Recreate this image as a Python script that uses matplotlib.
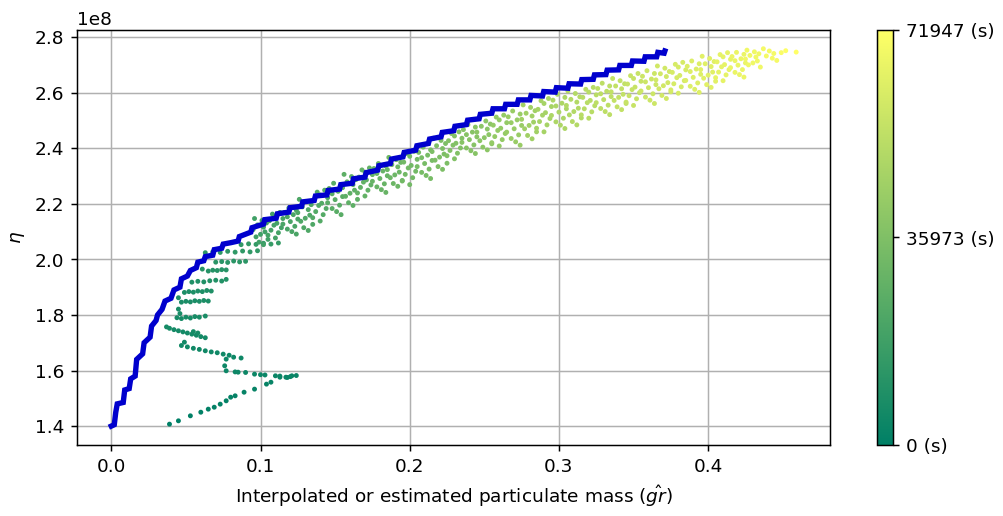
import numpy as np
import matplotlib.pyplot as plt

T_MAX = 71947      # duración total (s)
SCALE = 1e8        # eta en unidades de 1e8

# --- serie azul: masa real vs eta (escalones) ---
blue_x = [0.000, 0.002, 0.003, 0.004, 0.008, 0.009, 0.012, 0.013, 0.016, 0.017,
          0.021, 0.022, 0.026, 0.027, 0.030, 0.031, 0.034, 0.036, 0.040, 0.042,
          0.046, 0.047, 0.051, 0.053, 0.057, 0.058, 0.062, 0.063, 0.068, 0.069,
          0.074, 0.075, 0.080,
          0.0850, 0.0858, 0.0935, 0.0943, 0.1020, 0.1028, 0.1105, 0.1113,
          0.1190, 0.1198, 0.1275, 0.1283, 0.1360, 0.1368, 0.1445, 0.1453,
          0.1530, 0.1538, 0.1615, 0.1623, 0.1700, 0.1708, 0.1785, 0.1793,
          0.1870, 0.1878, 0.1955, 0.1963, 0.2040, 0.2048, 0.2125, 0.2133,
          0.2210, 0.2218, 0.2295, 0.2303, 0.2380, 0.2388, 0.2465, 0.2473,
          0.2550, 0.2558, 0.2635, 0.2643, 0.2720, 0.2728, 0.2805, 0.2813,
          0.2890, 0.2898, 0.2975, 0.2983, 0.3060, 0.3068, 0.3145, 0.3153,
          0.3230, 0.3238, 0.3315, 0.3323, 0.3400, 0.3408, 0.3485, 0.3493,
          0.3570, 0.3578, 0.3655, 0.3663, 0.3705, 0.3710]
blue_y = [1.400, 1.405, 1.450, 1.480, 1.485, 1.530, 1.535, 1.570, 1.580, 1.640,
          1.660, 1.700, 1.720, 1.760, 1.780, 1.800, 1.820, 1.850, 1.860, 1.890,
          1.900, 1.930, 1.940, 1.960, 1.970, 1.990, 1.995, 2.010, 2.015, 2.035,
          2.040, 2.055, 2.060,
          2.066, 2.082, 2.098, 2.114, 2.127, 2.143, 2.148, 2.164,
          2.170, 2.186, 2.191, 2.207, 2.212, 2.228, 2.232, 2.248,
          2.253, 2.269, 2.274, 2.290, 2.296, 2.312, 2.321, 2.337,
          2.345, 2.361, 2.369, 2.385, 2.393, 2.409, 2.417, 2.433,
          2.441, 2.457, 2.463, 2.479, 2.485, 2.501, 2.506, 2.522,
          2.526, 2.542, 2.542, 2.558, 2.558, 2.574, 2.574, 2.590,
          2.588, 2.604, 2.602, 2.618, 2.616, 2.632, 2.631, 2.647,
          2.648, 2.664, 2.665, 2.681, 2.682, 2.698, 2.698, 2.714,
          2.713, 2.729, 2.729, 2.745, 2.742, 2.750]

# --- nube verde: masa estimada vs eta, color = tiempo (s) ---
green_x = [
    # primer tramo (zigzag inicial)
    0.039, 0.045, 0.053, 0.060, 0.065, 0.069, 0.073, 0.077, 0.080, 0.083,
    0.089, 0.096, 0.104, 0.107, 0.113, 0.118, 0.121, 0.124,
    0.120, 0.117, 0.113, 0.110, 0.103, 0.100, 0.096, 0.090, 0.085, 0.083,
    0.077, 0.076, 0.077,
    0.087, 0.082, 0.079, 0.075, 0.071, 0.067, 0.063, 0.059, 0.055, 0.051,
    0.047, 0.049,
    0.063, 0.060, 0.057, 0.054, 0.051, 0.048, 0.045, 0.042, 0.039, 0.037,
    0.055, 0.058,
    0.044, 0.047, 0.050, 0.053, 0.056, 0.059, 0.046, 0.045, 0.063,
    0.047, 0.050, 0.053, 0.056, 0.059, 0.062, 0.065, 0.045,
    0.049, 0.052, 0.055, 0.058, 0.061, 0.064, 0.067,
    0.054, 0.058, 0.062, 0.066, 0.070, 0.074, 0.077,
    0.065, 0.068, 0.071, 0.074, 0.077, 0.061,
    0.070, 0.074, 0.078, 0.082, 0.086, 0.090,
    0.063, 0.068, 0.073, 0.078, 0.083, 0.088, 0.093, 0.098,
    0.087, 0.092, 0.097, 0.102, 0.107, 0.112,
    # banda principal
    0.096, 0.101, 0.104, 0.098, 0.102, 0.095, 0.103, 0.100, 0.097, 0.105, 0.099, 0.102,
    0.113, 0.108, 0.110, 0.115, 0.106, 0.111, 0.109, 0.114, 0.107, 0.112, 0.105, 0.110,
    0.119, 0.124, 0.116, 0.122, 0.118, 0.125, 0.120, 0.115, 0.123, 0.118, 0.121, 0.124,
    0.126, 0.131, 0.134, 0.128, 0.132, 0.125, 0.133, 0.130, 0.127, 0.135, 0.129, 0.132,
    0.143, 0.138, 0.140, 0.145, 0.136, 0.141, 0.139, 0.144, 0.137, 0.142, 0.135, 0.140,
    0.149, 0.154, 0.146, 0.152, 0.148, 0.155, 0.150, 0.145, 0.153, 0.148, 0.151, 0.154,
    0.156, 0.161, 0.164, 0.158, 0.162, 0.155, 0.163, 0.160, 0.157, 0.165, 0.159, 0.162,
    0.173, 0.168, 0.170, 0.175, 0.166, 0.171, 0.169, 0.174, 0.167, 0.172, 0.165, 0.170,
    0.179, 0.184, 0.176, 0.182, 0.178, 0.185, 0.180, 0.175, 0.183, 0.178, 0.181, 0.184,
    0.186, 0.191, 0.194, 0.188, 0.192, 0.185, 0.193, 0.190, 0.187, 0.195, 0.189, 0.192,
    0.203, 0.198, 0.200, 0.205, 0.196, 0.201, 0.199, 0.204, 0.197, 0.202, 0.195, 0.200,
    0.209, 0.214, 0.206, 0.212, 0.208, 0.215, 0.210, 0.205, 0.213, 0.208, 0.211, 0.214,
    0.216, 0.221, 0.224, 0.218, 0.222, 0.215, 0.223, 0.220, 0.217, 0.225, 0.219, 0.222,
    0.233, 0.228, 0.230, 0.235, 0.226, 0.231, 0.229, 0.234, 0.227, 0.232, 0.225, 0.230,
    0.239, 0.244, 0.236, 0.242, 0.238, 0.245, 0.240, 0.235, 0.243, 0.238, 0.241, 0.244,
    0.246, 0.251, 0.254, 0.248, 0.252, 0.245, 0.253, 0.250, 0.247, 0.255, 0.249, 0.252,
    0.263, 0.258, 0.260, 0.265, 0.256, 0.261, 0.259, 0.264, 0.257, 0.262, 0.255, 0.260,
    0.269, 0.274, 0.266, 0.272, 0.268, 0.275, 0.270, 0.265, 0.273, 0.268, 0.271, 0.274,
    0.276, 0.281, 0.284, 0.278, 0.282, 0.275, 0.283, 0.280, 0.277, 0.285, 0.279, 0.282,
    0.293, 0.288, 0.290, 0.295, 0.286, 0.291, 0.289, 0.294, 0.287, 0.292, 0.285, 0.290,
    0.299, 0.304, 0.296, 0.302, 0.298, 0.305, 0.300, 0.295, 0.303, 0.298, 0.301, 0.304,
    0.306, 0.311, 0.314, 0.308, 0.312, 0.305, 0.313, 0.310, 0.307, 0.315, 0.309, 0.312,
    0.323, 0.318, 0.320, 0.325, 0.316, 0.321, 0.319, 0.324, 0.317, 0.322, 0.315, 0.320,
    0.329, 0.334, 0.326, 0.332, 0.328, 0.335, 0.330, 0.325, 0.333, 0.328, 0.331, 0.334,
    0.336, 0.341, 0.344, 0.338, 0.342, 0.335, 0.343, 0.340, 0.337, 0.345, 0.339, 0.342,
    0.353, 0.348, 0.350, 0.355, 0.346, 0.351, 0.349, 0.354, 0.347, 0.352, 0.345, 0.350,
    0.359, 0.364, 0.356, 0.362, 0.358, 0.365, 0.360, 0.355, 0.363, 0.358, 0.361, 0.364,
    0.366, 0.371, 0.374, 0.368, 0.372, 0.365, 0.373, 0.370, 0.367, 0.375, 0.369, 0.372,
    0.383, 0.378, 0.380, 0.385, 0.376, 0.381, 0.379, 0.384, 0.377, 0.382, 0.375, 0.380,
    0.389, 0.394, 0.386, 0.392, 0.388, 0.395, 0.390, 0.385, 0.393, 0.388, 0.391, 0.394,
    0.396, 0.401, 0.404, 0.398, 0.402, 0.395, 0.403, 0.400, 0.397, 0.405, 0.399, 0.402,
    0.413, 0.408, 0.410, 0.415, 0.406, 0.411, 0.409, 0.414, 0.407, 0.412, 0.405, 0.410,
    0.419, 0.424, 0.416, 0.422, 0.418, 0.425, 0.420, 0.415, 0.423, 0.418, 0.421, 0.424,
    0.426, 0.431, 0.434, 0.428, 0.432, 0.425, 0.433, 0.430, 0.427, 0.435,
    0.437, 0.441, 0.444, 0.439, 0.443, 0.446,
    0.449, 0.452, 0.459,
]
green_y = [
    1.407, 1.419, 1.437, 1.450, 1.461, 1.468, 1.479, 1.491, 1.504, 1.509,
    1.522, 1.533, 1.551, 1.558, 1.576, 1.575, 1.581, 1.582,
    1.578, 1.576, 1.580, 1.581, 1.584, 1.585, 1.587, 1.593, 1.594, 1.595,
    1.599, 1.617, 1.641,
    1.645, 1.648, 1.655, 1.659, 1.664, 1.667, 1.671, 1.676, 1.680, 1.685,
    1.690, 1.702,
    1.718, 1.722, 1.727, 1.731, 1.735, 1.739, 1.743, 1.747, 1.752, 1.757,
    1.740, 1.735,
    1.790, 1.787, 1.792, 1.789, 1.794, 1.792, 1.805, 1.821, 1.796,
    1.846, 1.849, 1.847, 1.851, 1.849, 1.852, 1.850, 1.862,
    1.881, 1.884, 1.882, 1.886, 1.884, 1.888, 1.886,
    1.918, 1.921, 1.919, 1.923, 1.925, 1.922, 1.928,
    1.958, 1.961, 1.960, 1.963, 1.962, 1.965,
    1.990, 1.992, 1.989, 1.994, 1.991, 1.993,
    2.024, 2.027, 2.025, 2.029, 2.026, 2.030, 2.027, 2.031,
    2.053, 2.056, 2.054, 2.058, 2.055, 2.059,
    2.147, 2.140, 2.131, 2.124, 2.116, 2.107, 2.099, 2.090, 2.081, 2.072, 2.062, 2.053,
    2.169, 2.163, 2.155, 2.147, 2.139, 2.130, 2.123, 2.114, 2.105, 2.096, 2.087, 2.077,
    2.185, 2.177, 2.169, 2.161, 2.153, 2.145, 2.136, 2.127, 2.119, 2.109, 2.100, 2.091,
    2.216, 2.208, 2.197, 2.189, 2.179, 2.168, 2.159, 2.148, 2.137, 2.126, 2.114, 2.104,
    2.249, 2.242, 2.232, 2.222, 2.213, 2.202, 2.194, 2.183, 2.172, 2.161, 2.150, 2.138,
    2.274, 2.264, 2.255, 2.245, 2.236, 2.226, 2.215, 2.204, 2.195, 2.183, 2.172, 2.161,
    2.306, 2.298, 2.287, 2.279, 2.269, 2.258, 2.249, 2.238, 2.227, 2.216, 2.204, 2.194,
    2.329, 2.322, 2.314, 2.305, 2.296, 2.286, 2.278, 2.268, 2.259, 2.249, 2.239, 2.228,
    2.345, 2.336, 2.327, 2.318, 2.309, 2.301, 2.291, 2.281, 2.272, 2.261, 2.251, 2.241,
    2.367, 2.359, 2.349, 2.341, 2.333, 2.323, 2.314, 2.304, 2.294, 2.284, 2.273, 2.263,
    2.389, 2.381, 2.371, 2.360, 2.350, 2.338, 2.329, 2.317, 2.306, 2.294, 2.282, 2.269,
    2.404, 2.394, 2.385, 2.375, 2.366, 2.356, 2.345, 2.334, 2.325, 2.313, 2.302, 2.291,
    2.436, 2.428, 2.417, 2.409, 2.399, 2.388, 2.379, 2.368, 2.357, 2.346, 2.334, 2.324,
    2.459, 2.453, 2.444, 2.436, 2.427, 2.418, 2.411, 2.401, 2.392, 2.382, 2.373, 2.362,
    2.485, 2.476, 2.467, 2.458, 2.449, 2.441, 2.431, 2.421, 2.412, 2.401, 2.391, 2.381,
    2.506, 2.498, 2.487, 2.479, 2.469, 2.458, 2.449, 2.438, 2.427, 2.416, 2.404, 2.394,
    2.519, 2.512, 2.502, 2.492, 2.483, 2.472, 2.464, 2.453, 2.442, 2.431, 2.420, 2.408,
    2.534, 2.523, 2.513, 2.502, 2.492, 2.482, 2.470, 2.458, 2.448, 2.435, 2.423, 2.411,
    2.556, 2.547, 2.535, 2.526, 2.516, 2.504, 2.494, 2.482, 2.470, 2.459, 2.446, 2.434,
    2.579, 2.571, 2.561, 2.550, 2.540, 2.528, 2.519, 2.507, 2.496, 2.484, 2.472, 2.459,
    2.594, 2.583, 2.573, 2.562, 2.552, 2.542, 2.530, 2.518, 2.508, 2.495, 2.483, 2.471,
    2.606, 2.597, 2.585, 2.576, 2.566, 2.554, 2.544, 2.532, 2.520, 2.509, 2.496, 2.484,
    2.619, 2.612, 2.602, 2.592, 2.583, 2.572, 2.564, 2.553, 2.542, 2.531, 2.520, 2.508,
    2.634, 2.624, 2.615, 2.605, 2.596, 2.586, 2.575, 2.564, 2.555, 2.543, 2.532, 2.521,
    2.651, 2.643, 2.632, 2.624, 2.614, 2.603, 2.594, 2.583, 2.572, 2.561, 2.549, 2.539,
    2.669, 2.661, 2.651, 2.641, 2.631, 2.620, 2.611, 2.600, 2.589, 2.578, 2.566, 2.554,
    2.679, 2.669, 2.659, 2.649, 2.639, 2.629, 2.618, 2.606, 2.596, 2.584, 2.573, 2.561,
    2.696, 2.688, 2.676, 2.668, 2.658, 2.646, 2.636, 2.625, 2.614, 2.603, 2.590, 2.579,
    2.709, 2.702, 2.692, 2.682, 2.673, 2.662, 2.654, 2.643, 2.632, 2.621, 2.610, 2.598,
    2.714, 2.704, 2.695, 2.685, 2.676, 2.666, 2.655, 2.644, 2.635, 2.623, 2.612, 2.601,
    2.731, 2.723, 2.712, 2.704, 2.694, 2.683, 2.674, 2.663, 2.652, 2.641, 2.629, 2.619,
    2.744, 2.737, 2.729, 2.720, 2.711, 2.701, 2.693, 2.683, 2.674, 2.664, 2.654, 2.643,
    2.745, 2.738, 2.730, 2.722, 2.715, 2.707, 2.699, 2.690, 2.683, 2.673, 2.665, 2.656,
    2.753, 2.747, 2.740, 2.734, 2.728, 2.721, 2.714, 2.707, 2.700, 2.692,
    2.758, 2.750, 2.741, 2.732, 2.724, 2.716,
    2.744, 2.751, 2.746,
]
green_t = [
    0, 200, 500, 700, 900, 1000, 1200, 1400, 1500, 1600,
    1800, 2000, 2200, 2300, 2500, 2600, 2700, 2800,
    2900, 3000, 3100, 3200, 3300, 3400, 3500, 3600, 3700, 3800,
    3900, 4000, 4100,
    4200, 4300, 4400, 4500, 4600, 4700, 4800, 4900, 5000, 5100,
    5200, 5300,
    5400, 5500, 5600, 5700, 5800, 5900, 6000, 6100, 6200, 6300,
    6400, 6500,
    6600, 6700, 6800, 6900, 7000, 7100, 7200, 7300, 7400,
    7500, 7600, 7700, 7800, 7900, 8000, 8100, 8200,
    8300, 8400, 8500, 8600, 8700, 8800, 8900,
    9000, 9200, 9400, 9600, 9800, 10000, 10200,
    10400, 10600, 10800, 11000, 11200, 11400,
    11600, 11800, 12000, 12200, 12400, 12600,
    12800, 13000, 13200, 13400, 13600, 13800, 14000, 14200,
    14400, 14600, 14800, 15000, 15200, 15400,
    18000, 18000, 18000, 18000, 18000, 18000, 18000, 18000, 18000, 18000, 18000, 18000,
    19400, 19400, 19400, 19400, 19400, 19400, 19400, 19400, 19400, 19400, 19400, 19400,
    20900, 20900, 20900, 20900, 20900, 20900, 20900, 20900, 20900, 20900, 20900, 20900,
    22300, 22300, 22300, 22300, 22300, 22300, 22300, 22300, 22300, 22300, 22300, 22300,
    23700, 23700, 23700, 23700, 23700, 23700, 23700, 23700, 23700, 23700, 23700, 23700,
    25200, 25200, 25200, 25200, 25200, 25200, 25200, 25200, 25200, 25200, 25200, 25200,
    26600, 26600, 26600, 26600, 26600, 26600, 26600, 26600, 26600, 26600, 26600, 26600,
    28100, 28100, 28100, 28100, 28100, 28100, 28100, 28100, 28100, 28100, 28100, 28100,
    29500, 29500, 29500, 29500, 29500, 29500, 29500, 29500, 29500, 29500, 29500, 29500,
    30900, 30900, 30900, 30900, 30900, 30900, 30900, 30900, 30900, 30900, 30900, 30900,
    32400, 32400, 32400, 32400, 32400, 32400, 32400, 32400, 32400, 32400, 32400, 32400,
    33800, 33800, 33800, 33800, 33800, 33800, 33800, 33800, 33800, 33800, 33800, 33800,
    35300, 35300, 35300, 35300, 35300, 35300, 35300, 35300, 35300, 35300, 35300, 35300,
    36700, 36700, 36700, 36700, 36700, 36700, 36700, 36700, 36700, 36700, 36700, 36700,
    38100, 38100, 38100, 38100, 38100, 38100, 38100, 38100, 38100, 38100, 38100, 38100,
    39600, 39600, 39600, 39600, 39600, 39600, 39600, 39600, 39600, 39600, 39600, 39600,
    41700, 41700, 41700, 41700, 41700, 41700, 41700, 41700, 41700, 41700, 41700, 41700,
    43200, 43200, 43200, 43200, 43200, 43200, 43200, 43200, 43200, 43200, 43200, 43200,
    45300, 45300, 45300, 45300, 45300, 45300, 45300, 45300, 45300, 45300, 45300, 45300,
    46800, 46800, 46800, 46800, 46800, 46800, 46800, 46800, 46800, 46800, 46800, 46800,
    48900, 48900, 48900, 48900, 48900, 48900, 48900, 48900, 48900, 48900, 48900, 48900,
    50400, 50400, 50400, 50400, 50400, 50400, 50400, 50400, 50400, 50400, 50400, 50400,
    51800, 51800, 51800, 51800, 51800, 51800, 51800, 51800, 51800, 51800, 51800, 51800,
    53200, 53200, 53200, 53200, 53200, 53200, 53200, 53200, 53200, 53200, 53200, 53200,
    54700, 54700, 54700, 54700, 54700, 54700, 54700, 54700, 54700, 54700, 54700, 54700,
    56100, 56100, 56100, 56100, 56100, 56100, 56100, 56100, 56100, 56100, 56100, 56100,
    57600, 57600, 57600, 57600, 57600, 57600, 57600, 57600, 57600, 57600, 57600, 57600,
    59000, 59000, 59000, 59000, 59000, 59000, 59000, 59000, 59000, 59000, 59000, 59000,
    60400, 60400, 60400, 60400, 60400, 60400, 60400, 60400, 60400, 60400, 60400, 60400,
    61900, 61900, 61900, 61900, 61900, 61900, 61900, 61900, 61900, 61900, 61900, 61900,
    63300, 63300, 63300, 63300, 63300, 63300, 63300, 63300, 63300, 63300, 63300, 63300,
    64800, 64800, 64800, 64800, 64800, 64800, 64800, 64800, 64800, 64800, 64800, 64800,
    66200, 66200, 66200, 66200, 66200, 66200, 66200, 66200, 66200, 66200, 66200, 66200,
    67600, 67600, 67600, 67600, 67600, 67600, 67600, 67600, 67600, 67600,
    69100, 69100, 69100, 69100, 69100, 69100,
    70500, 71200, 71947,
]

cbar_ticks = [0, 35973, 71947]

fig = plt.figure(figsize=(7.52, 3.87), dpi=133.4)
ax = fig.add_axes([0.0768, 0.1376, 0.751, 0.804])
cax = fig.add_axes([0.874, 0.1376, 0.016, 0.804])

sc = ax.scatter(green_x, np.array(green_y) * SCALE, c=green_t, cmap='summer',
                vmin=0, vmax=T_MAX, s=7, linewidths=0, zorder=2)
ax.plot(blue_x, np.array(blue_y) * SCALE, color='mediumblue', lw=2.9,
        solid_joinstyle='miter', zorder=3)

ax.grid(True, zorder=0)
ax.set_axisbelow(True)
ax.set_xlabel(r'Interpolated or estimated particulate mass ($\hat{gr}$)')
ax.set_ylabel(r'$\eta$')

cb = fig.colorbar(sc, cax=cax, ticks=cbar_ticks)
cb.ax.set_yticklabels([f'{v} (s)' for v in cbar_ticks])

plt.savefig('out.png', dpi=133.4)
